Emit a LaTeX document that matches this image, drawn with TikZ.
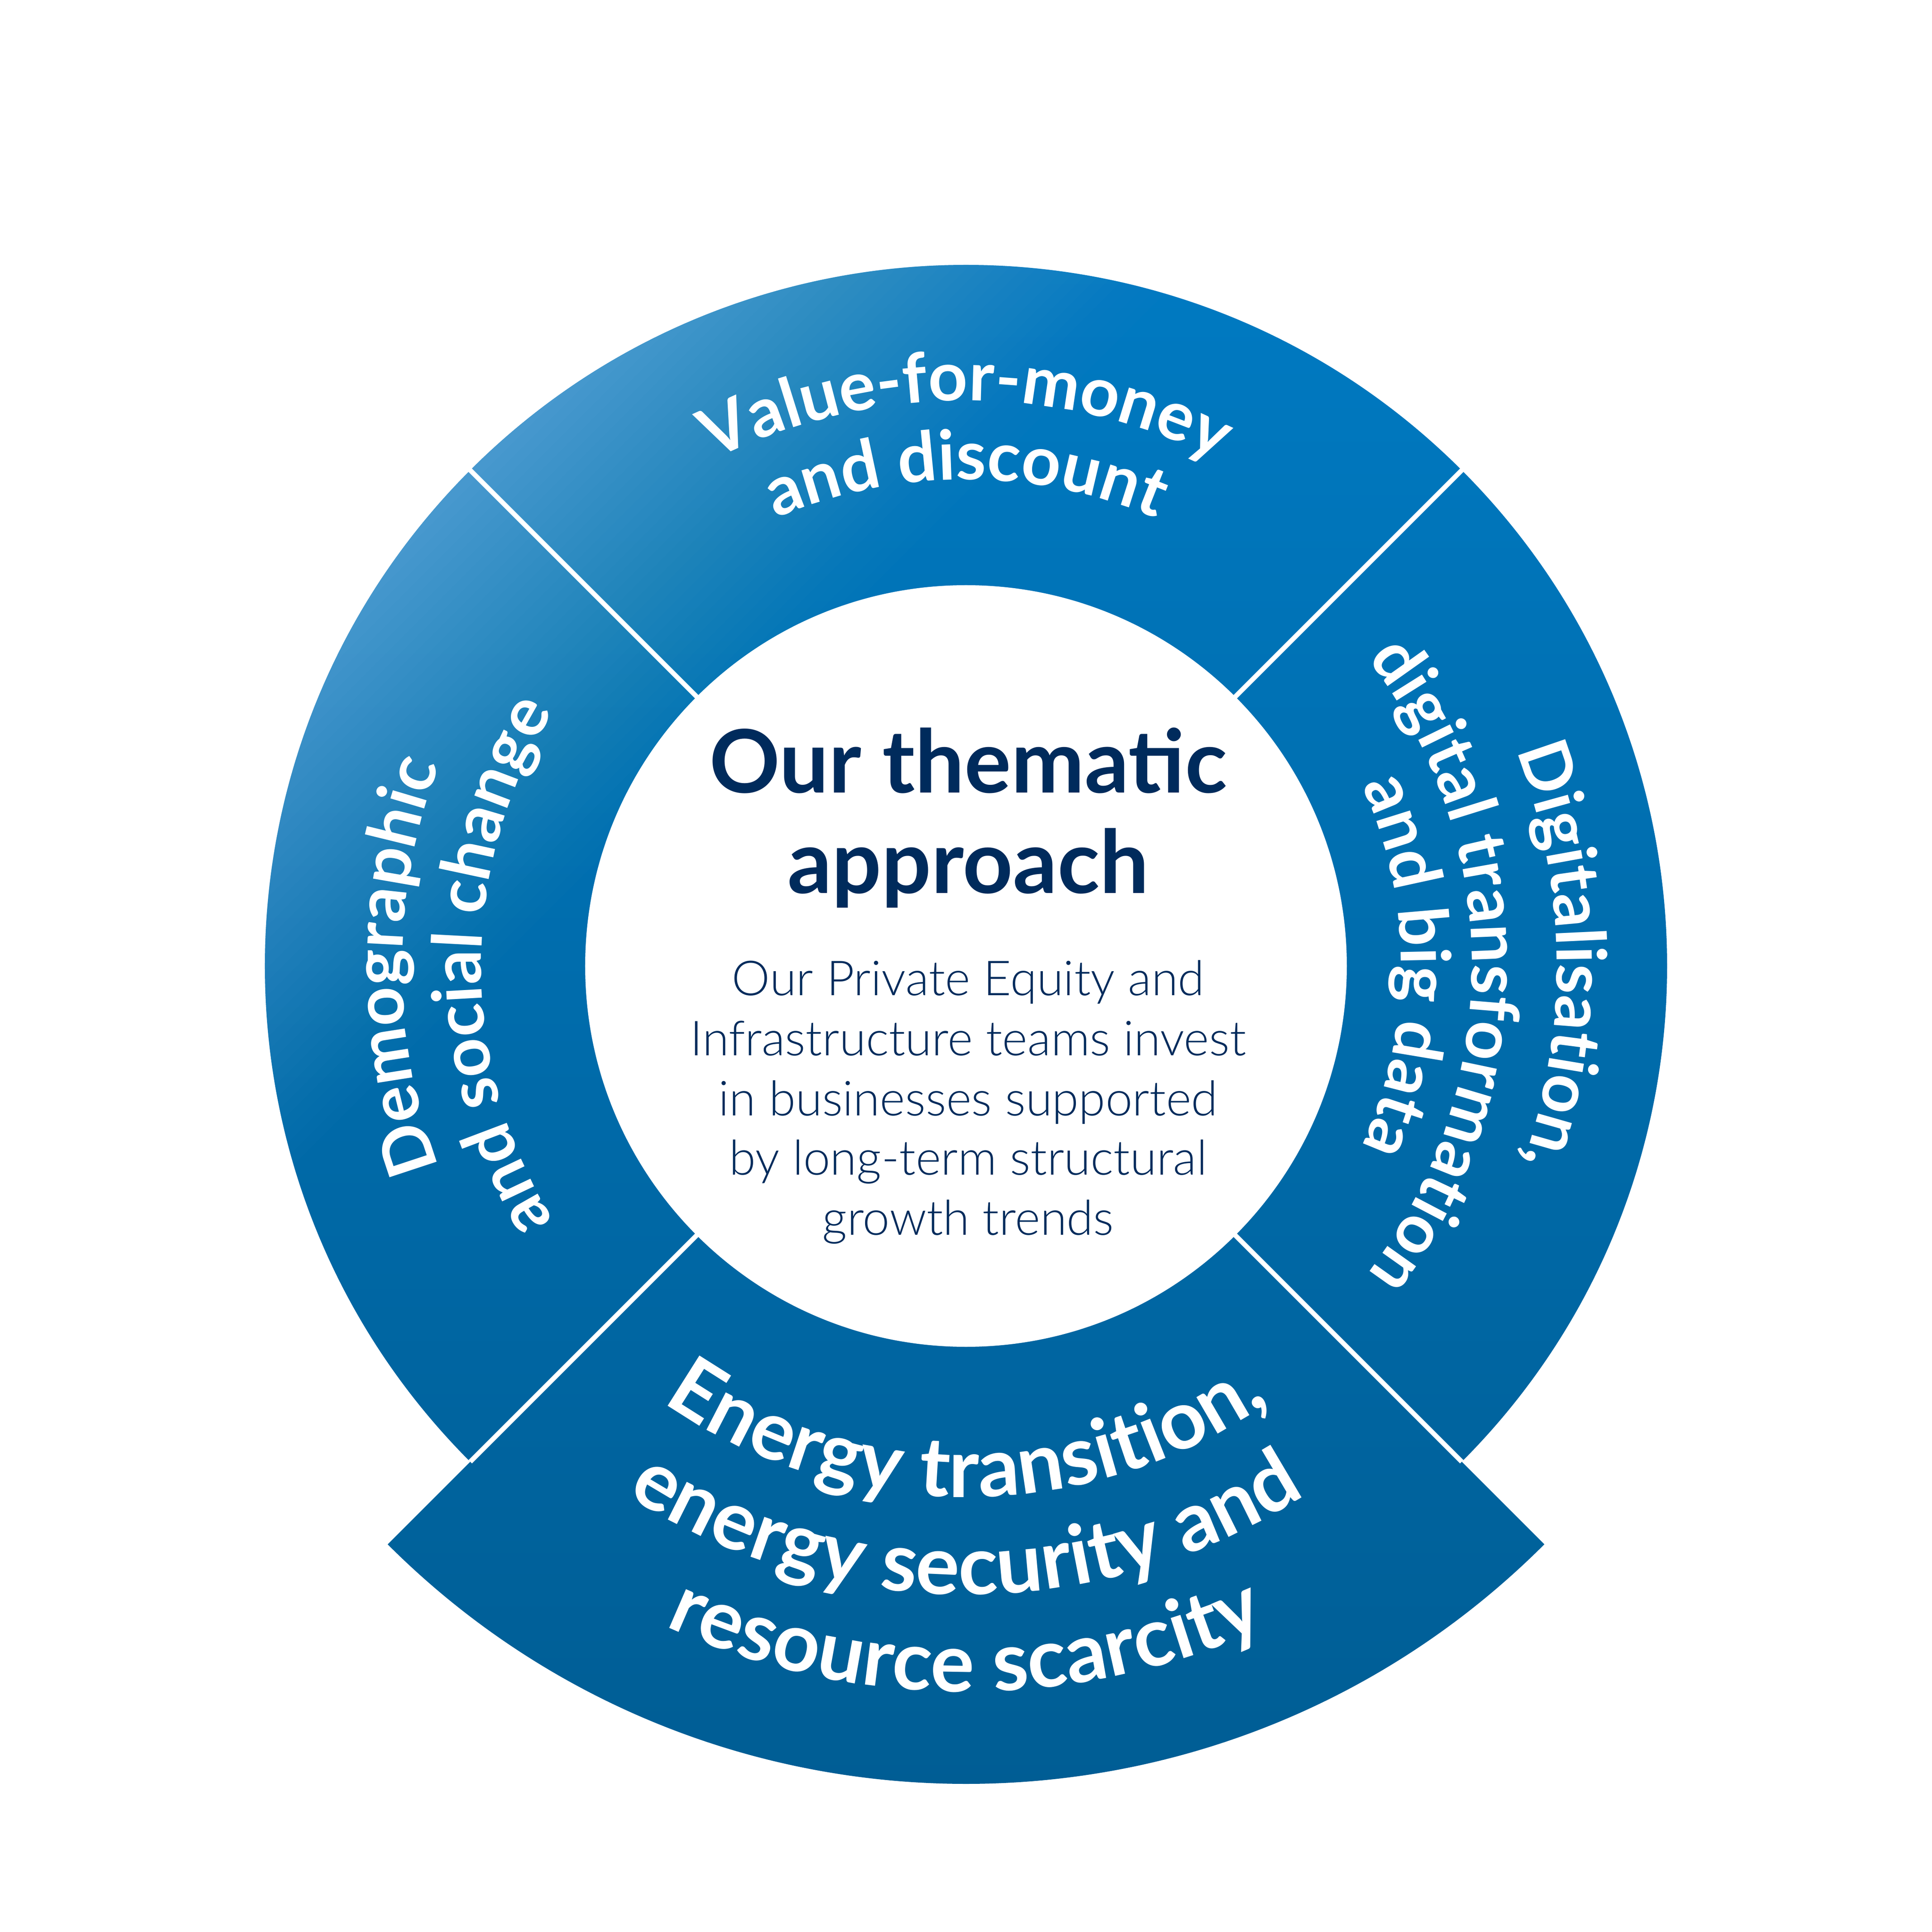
\documentclass[tikz,border=0pt]{standalone}
\usepackage{fontspec}
\setmainfont{Lato}
\newfontfamily\lightfont{Lato Light}
\usetikzlibrary{decorations.text}
\definecolor{navy}{HTML}{002B5C}
\definecolor{ringtop}{HTML}{007AC2}
\definecolor{ringmid}{HTML}{0073B6}
\definecolor{ringbot}{HTML}{005D94}
\definecolor{glowblue}{HTML}{66A9DD}
\newcommand\segfont{\fontsize{45.5}{52}\selectfont\bfseries\color{white}}
\newcommand\botfont{\fontsize{54.5}{61}\selectfont\bfseries\color{white}}
% clockwise arc text: radius, middle angle, format, text
\newcommand\cwtext[4]{%
  \path[decorate, decoration={text along path, text color=white, text={|#3|#4}, text align=center}]
    ({#2+80}:#1) arc[start angle={#2+80}, end angle={#2-80}, radius=#1];}
% counter-clockwise arc text
\newcommand\ccwtext[4]{%
  \path[decorate, decoration={text along path, text color=white, text={|#3|#4}, text align=center}]
    ({#2-80}:#1) arc[start angle={#2-80}, end angle={#2+80}, radius=#1];}
\tikzset{
  headtxt/.style={text=navy, font=\fontsize{58}{66}\selectfont\bfseries, anchor=base, inner sep=0pt},
  bodytxt/.style={text=navy, font=\fontsize{32}{38}\selectfont\lightfont, anchor=base, inner sep=0pt},
  gapline/.style={white, line width=0.11cm},
  glowlayer/.style={glowblue, fill opacity=#1}
}
\begin{document}
\begin{tikzpicture}
\useasboundingbox (-22.5,-22.5) rectangle (22.5,22.5);
\def\Ri{8.87}
\def\Ro{16.33}
\def\Rb{19.05}
% ring with the enlarged bottom segment
\begin{scope}
  \clip (45:\Ro) arc[start angle=45, end angle=225, radius=\Ro]
        -- (225:\Rb) arc[start angle=225, end angle=315, radius=\Rb]
        -- (315:\Ro) arc[start angle=315, end angle=405, radius=\Ro] -- cycle;
  \shade[top color=ringtop, middle color=ringmid, bottom color=ringbot]
        (-19.2,-19.2) rectangle (19.2,16.5);
  % light from the upper left (layers giving a linear rise of opacity)
  \begin{scope}[rotate=45]
    \foreach \k in {1,...,40} {
      \pgfmathsetmacro\op{0.02/(1-0.02*(\k-1))}
      \fill[glowlayer=\op] (-25,{7.8+0.23*(\k-1)}) rectangle (25,25.5);
    }
  \end{scope}
\end{scope}
\fill[white] (0,0) circle (\Ri);
% separating white lines
\draw[gapline] (45:\Ri-0.2) -- (45:\Ro+0.2);
\draw[gapline] (135:\Ri-0.2) -- (135:\Ro+0.2);
\draw[gapline] (225:\Ri-0.2) -- (225:\Ro);
\draw[gapline] (315:\Ri-0.2) -- (315:\Ro);
% top segment
\cwtext{13.17}{90}{\segfont}{Value-for-money}
\cwtext{11.33}{90}{\segfont}{and discount}
% right segment
\cwtext{13.76}{1.0}{\segfont}{Digitalisation,}
\cwtext{11.78}{0}{\segfont}{digital transformation}
\cwtext{10.13}{0}{\segfont}{and big data}
% left segment
\cwtext{13.13}{180}{\segfont}{Demographic}
\cwtext{11.29}{180}{\segfont}{and social change}
% bottom segment
\ccwtext{12.37}{270}{\botfont}{Energy transition,}
\ccwtext{14.64}{270}{\botfont}{energy security and}
\ccwtext{16.90}{270}{\botfont}{resource scarcity}
% centre
\node[headtxt] (h1) at (0.05,4.03) {Our thematic};
\node[headtxt] (h2) at (0.05,1.69) {approach};
\node[bodytxt] (b1) at (0.05,-0.68) {Our Private Equity and};
\node[bodytxt] (b2) at (0.05,-2.08) {Infrastructure teams invest};
\node[bodytxt] (b3) at (0.05,-3.48) {in businesses supported};
\node[bodytxt] (b4) at (0.05,-4.86) {by long-term structural};
\node[bodytxt] (b5) at (0.05,-6.26) {growth trends};
\end{tikzpicture}
\end{document}
